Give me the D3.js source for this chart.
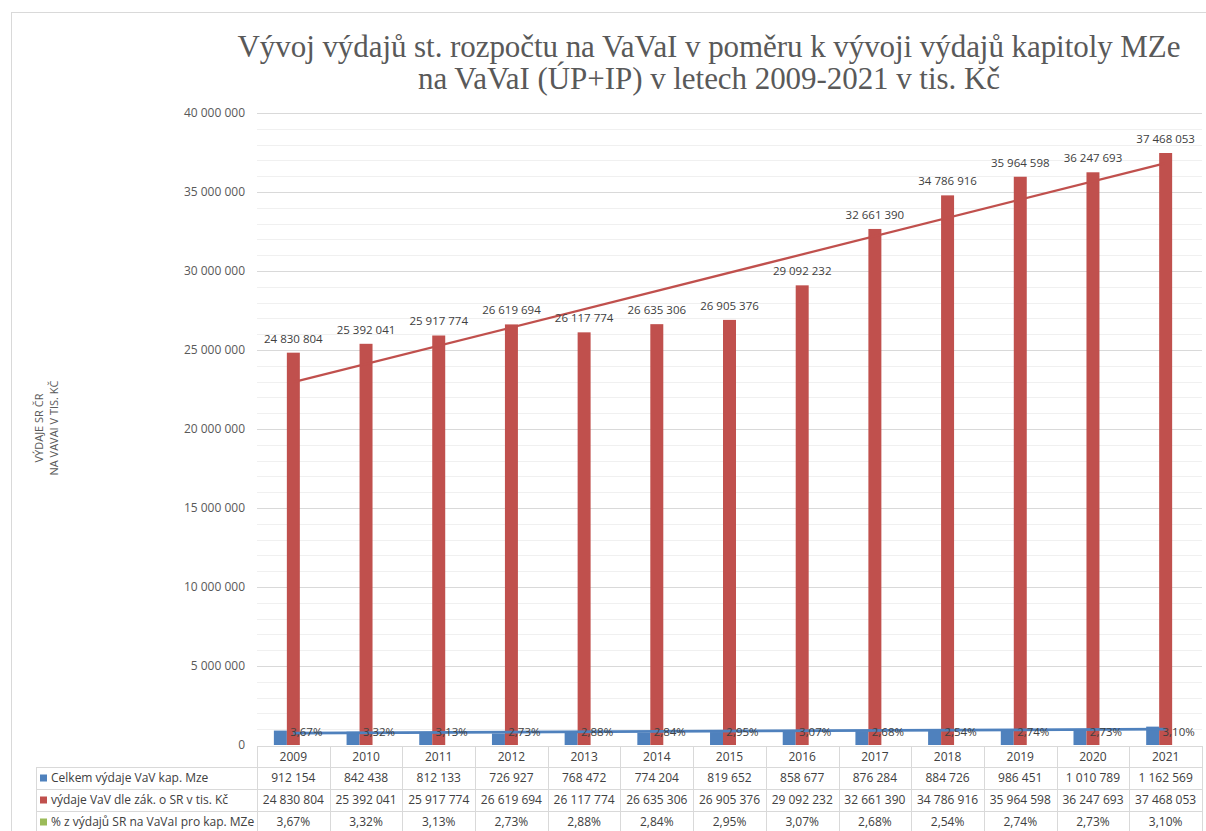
<!DOCTYPE html>
<html>
<head>
<meta charset="utf-8">
<script src="https://cdn.jsdelivr.net/npm/d3@7"></script>
<style>
  body { margin: 0; background: #fff; }
  text { font-family: "Open Sans", "Liberation Sans", sans-serif; }
</style>
</head>
<body>
<script>
// data
var years = ["2009","2010","2011","2012","2013","2014","2015","2016","2017","2018","2019","2020","2021"];
var celkemMze = [912154, 842438, 812133, 726927, 768472, 774204, 819652, 858677, 876284, 884726, 986451, 1010789, 1162569];
var vydajeSR = [24830804, 25392041, 25917774, 26619694, 26117774, 26635306, 26905376, 29092232, 32661390, 34786916, 35964598, 36247693, 37468053];
var procenta = [3.67, 3.32, 3.13, 2.73, 2.88, 2.84, 2.95, 3.07, 2.68, 2.54, 2.74, 2.73, 3.10];
var seriesNames = ["Celkem výdaje VaV kap. Mze", "výdaje VaV dle zák. o SR v tis. Kč", "% z výdajů SR na VaVaI pro kap. MZe"];
var yTicks = [0, 5000000, 10000000, 15000000, 20000000, 25000000, 30000000, 35000000, 40000000];

var colors = ["#4f81bd", "#c0504d", "#9bbb59"];
var W = 1206, H = 831;

var fmt = function(v) { return d3.format(",d")(v).replace(/,/g, " "); };
var fmtPct = function(v) { return v.toFixed(2).replace(".", ",") + "%"; };

var svg = d3.select("body").append("svg")
    .attr("width", W)
    .attr("height", H);

// chart border
svg.append("rect")
    .attr("x", 11.5).attr("y", 12.5)
    .attr("width", W).attr("height", H)
    .attr("fill", "none").attr("stroke", "#d9d9d9");

var x = d3.scaleBand().domain(years).range([257, 1202]);
var xs = d3.scaleBand().domain([0, 1, 2]).range([0, x.bandwidth()]).paddingOuter(1.3);
var y = d3.scaleLinear().domain([0, 40000000]).range([745, 113]);

// gridlines
svg.append("g").selectAll("line")
    .data(d3.range(1000000, 40000001, 1000000))
    .enter().append("line")
    .attr("x1", 257).attr("x2", 1202)
    .attr("y1", function(d) { return Math.round(y(d)) + 0.5; })
    .attr("y2", function(d) { return Math.round(y(d)) + 0.5; })
    .attr("stroke", function(d) { return d % 5000000 === 0 ? "#d9d9d9" : "#f0f0f0"; });

// y axis labels
var yAxis = svg.append("g")
    .attr("transform", "translate(253,0)")
    .call(d3.axisLeft(y).tickValues(yTicks).tickSize(0).tickPadding(8).tickFormat(fmt));
yAxis.select(".domain").remove();
yAxis.selectAll("text")
    .attr("fill", "#595959")
    .style("font-size", "12px")
    .style("font-family", "'Open Sans', sans-serif");

// axis title
var yt = svg.append("text")
    .attr("transform", "translate(46,428) rotate(-90)")
    .attr("text-anchor", "middle")
    .attr("fill", "#595959")
    .style("font-size", "11px");
yt.append("tspan").attr("x", 0).attr("dy", -3).text("VÝDAJE SR ČR");
yt.append("tspan").attr("x", 0).attr("dy", 15).text("NA VAVAI V TIS. KČ");

// bars
var series = [celkemMze, vydajeSR, procenta];
series.forEach(function(vals, s) {
    svg.append("g").selectAll("rect")
        .data(vals)
        .enter().append("rect")
        .attr("x", function(d, i) { return x(years[i]) + xs(s); })
        .attr("width", xs.bandwidth())
        .attr("y", function(d) { return y(d); })
        .attr("height", function(d) { return y(0) - y(d); })
        .attr("fill", colors[s]);
});

// linear trendlines (least squares, like Excel)
function trend(vals) {
    var n = vals.length, mx = (n + 1) / 2, my = d3.mean(vals);
    var sxy = d3.sum(vals, function(v, i) { return (i + 1 - mx) * (v - my); });
    var sxx = d3.sum(vals, function(v, i) { return (i + 1 - mx) * (i + 1 - mx); });
    var b = sxy / sxx, a = my - b * mx;
    return [a + b, a + b * n];
}
var cx = function(i) { return x(years[i]) + x.bandwidth() / 2; };
[[celkemMze, colors[0], 2.75], [vydajeSR, colors[1], 2.25]].forEach(function(t) {
    var tv = trend(t[0]);
    svg.append("line")
        .attr("x1", cx(0)).attr("x2", cx(years.length - 1))
        .attr("y1", y(tv[0])).attr("y2", y(tv[1]))
        .attr("stroke", t[1]).attr("stroke-width", t[2]);
});

// data labels on red bars
svg.append("g").selectAll("text")
    .data(vydajeSR)
    .enter().append("text")
    .attr("x", function(d, i) { return x(years[i]) + xs(1) + xs.bandwidth() / 2; })
    .attr("y", function(d) { return y(d) - 10; })
    .attr("text-anchor", "middle")
    .attr("fill", "#404040")
    .style("font-size", "11.5px")
    .text(fmt);

// percent labels
svg.append("g").selectAll("text")
    .data(procenta)
    .enter().append("text")
    .attr("x", function(d, i) { return x(years[i]) + xs(2) + xs.bandwidth() / 2; })
    .attr("y", y(0) - 9)
    .attr("text-anchor", "middle")
    .attr("fill", "#404040")
    .style("font-size", "11.5px")
    .text(fmtPct);

// data table
var rowTop = [746, 767, 789, 811, 833];
var tbl = svg.append("g").attr("stroke", "#d9d9d9").attr("fill", "none");
tbl.append("line").attr("x1", 257).attr("x2", 1202).attr("y1", 746.5).attr("y2", 746.5);
rowTop.slice(1).forEach(function(r) {
    tbl.append("line").attr("x1", 36).attr("x2", 1202).attr("y1", r + 0.5).attr("y2", r + 0.5);
});
tbl.append("line").attr("x1", 36.5).attr("x2", 36.5).attr("y1", 767).attr("y2", H);
years.forEach(function(yr, i) {
    var xx = Math.round(x(yr)) + 0.5;
    tbl.append("line").attr("x1", xx).attr("x2", xx).attr("y1", 746).attr("y2", H);
});
tbl.append("line").attr("x1", 1202.5).attr("x2", 1202.5).attr("y1", 746).attr("y2", H);

var rows = [years, celkemMze.map(fmt), vydajeSR.map(fmt), procenta.map(fmtPct)];
rows.forEach(function(r, ri) {
    svg.append("g").selectAll("text")
        .data(r)
        .enter().append("text")
        .attr("x", function(d, i) { return cx(i); })
        .attr("y", (rowTop[ri] + rowTop[ri + 1]) / 2 + 4)
        .attr("text-anchor", "middle")
        .attr("fill", "#404040")
        .style("font-size", "12px")
        .text(function(d) { return d; });
});

seriesNames.forEach(function(name, s) {
    var cy = (rowTop[s + 1] + rowTop[s + 2]) / 2;
    svg.append("rect")
        .attr("x", 40).attr("y", cy - 3.5)
        .attr("width", 7).attr("height", 7)
        .attr("fill", colors[s]);
    svg.append("text")
        .attr("x", 51).attr("y", cy + 4)
        .attr("fill", "#404040")
        .style("font-size", "12px")
        .text(name);
});

// title
var title = ["Vývoj výdajů st. rozpočtu na VaVaI v poměru k vývoji výdajů kapitoly MZe",
             "na VaVaI (ÚP+IP) v letech 2009-2021 v tis. Kč"];
var titleW = [943, 582];
title.forEach(function(t, i) {
    svg.append("text")
        .attr("x", 709).attr("y", 57 + i * 32)
        .attr("text-anchor", "middle")
        .attr("fill", "#595959")
        .attr("textLength", titleW[i])
        .style("font-family", "'Liberation Serif', 'DejaVu Serif', serif")
        .style("font-size", "31px")
        .text(t);
});
</script>
</body>
</html>
